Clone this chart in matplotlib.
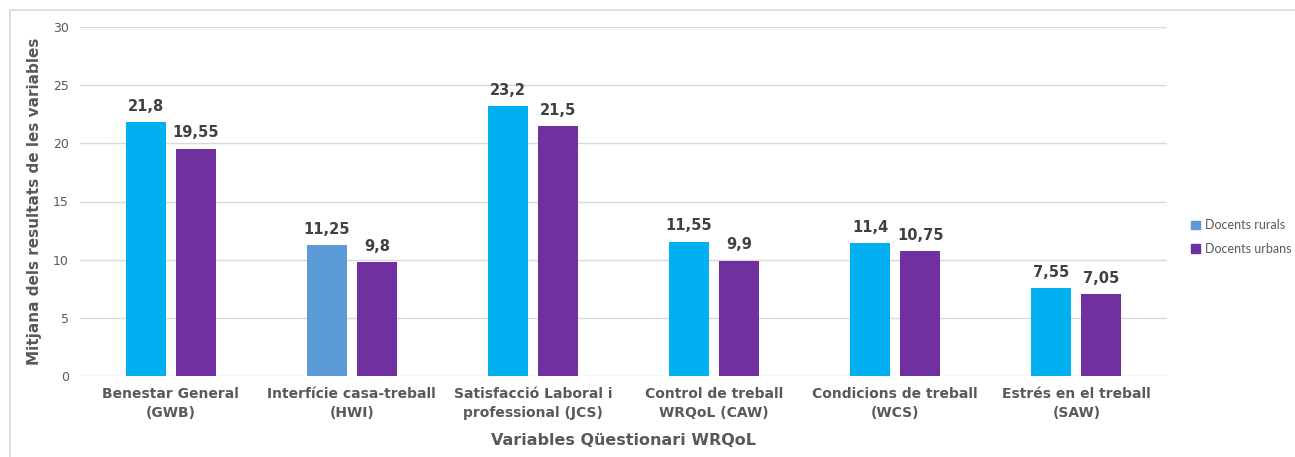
import matplotlib.pyplot as plt
import numpy as np

categories = ["Benestar General\n(GWB)", "Interfície casa-treball\n(HWI)",
              "Satisfacció Laboral i\nprofessional (JCS)", "Control de treball\nWRQoL (CAW)",
              "Condicions de treball\n(WCS)", "Estrés en el treball\n(SAW)"]
rurals = [21.8, 11.25, 23.2, 11.55, 11.4, 7.55]
urbans = [19.55, 9.8, 21.5, 9.9, 10.75, 7.05]
rural_labels = ["21,8", "11,25", "23,2", "11,55", "11,4", "7,55"]
urban_labels = ["19,55", "9,8", "21,5", "9,9", "10,75", "7,05"]

cyan = "#00B0F0"
blue = "#5B9BD5"
purple = "#7030A0"
text_col = "#595959"

plt.rcParams['font.family'] = ['DejaVu Sans']

fig = plt.figure(figsize=(12.95, 4.57), dpi=100)
ax = fig.add_axes([80 / 1295, 1 - 376 / 457, 1087 / 1295, 349 / 457])

x = np.arange(len(categories))
w = 0.22
off = 0.138
rural_colors = [cyan, blue, cyan, cyan, cyan, cyan]
b1 = ax.bar(x - off, rurals, w, color=rural_colors, label="Docents rurals", zorder=3)
b2 = ax.bar(x + off, urbans, w, color=purple, label="Docents urbans", zorder=3)

for bars, labels in ((b1, rural_labels), (b2, urban_labels)):
    for b, lab in zip(bars, labels):
        ax.annotate(lab, (b.get_x() + b.get_width() / 2, b.get_height()),
                    xytext=(0, 6), textcoords="offset points", ha="center", va="bottom",
                    fontsize=10.5, fontweight="bold", color="#404040")

ax.set_xlim(-0.5, len(categories) - 0.5)
ax.set_ylim(0, 30)
ax.set_yticks(range(0, 31, 5))
ax.set_xticks(x)
ax.set_xticklabels(categories, fontsize=10, fontweight="bold", color=text_col, linespacing=1.4)
ax.tick_params(axis="y", labelsize=9, labelcolor=text_col, length=0, pad=8)
ax.tick_params(axis="x", length=0, pad=8)
ax.grid(axis="y", color="#D9D9D9", linewidth=1, zorder=0)
for s in ax.spines.values():
    s.set_visible(False)

ax.set_ylabel("Mitjana dels resultats de les variables", fontsize=11, fontweight="bold",
              color=text_col, labelpad=8)
ax.set_xlabel("Variables Qüestionari WRQoL", fontsize=11.5, fontweight="bold",
              color=text_col, labelpad=10)

handles = [plt.Rectangle((0, 0), 1, 1, color=blue), plt.Rectangle((0, 0), 1, 1, color=purple)]
fig.legend(handles, ["Docents rurals", "Docents urbans"], loc="center left",
           bbox_to_anchor=(1191 / 1295, 1 - 237 / 457), frameon=False,
           labelcolor=text_col, handlelength=0.7, handleheight=0.7, handletextpad=0.4,
           labelspacing=0.9, borderpad=0, borderaxespad=0,
           prop={"family": "Lato", "size": 9})

# thin frame along the top and left edges
fig.add_artist(plt.Line2D([10 / 1295, 10 / 1295], [0, 1 - 10 / 457], color="#D9D9D9", lw=1.2))
fig.add_artist(plt.Line2D([10 / 1295, 1], [1 - 10 / 457, 1 - 10 / 457], color="#D9D9D9", lw=1.2))

fig.savefig("out.png", dpi=100)
